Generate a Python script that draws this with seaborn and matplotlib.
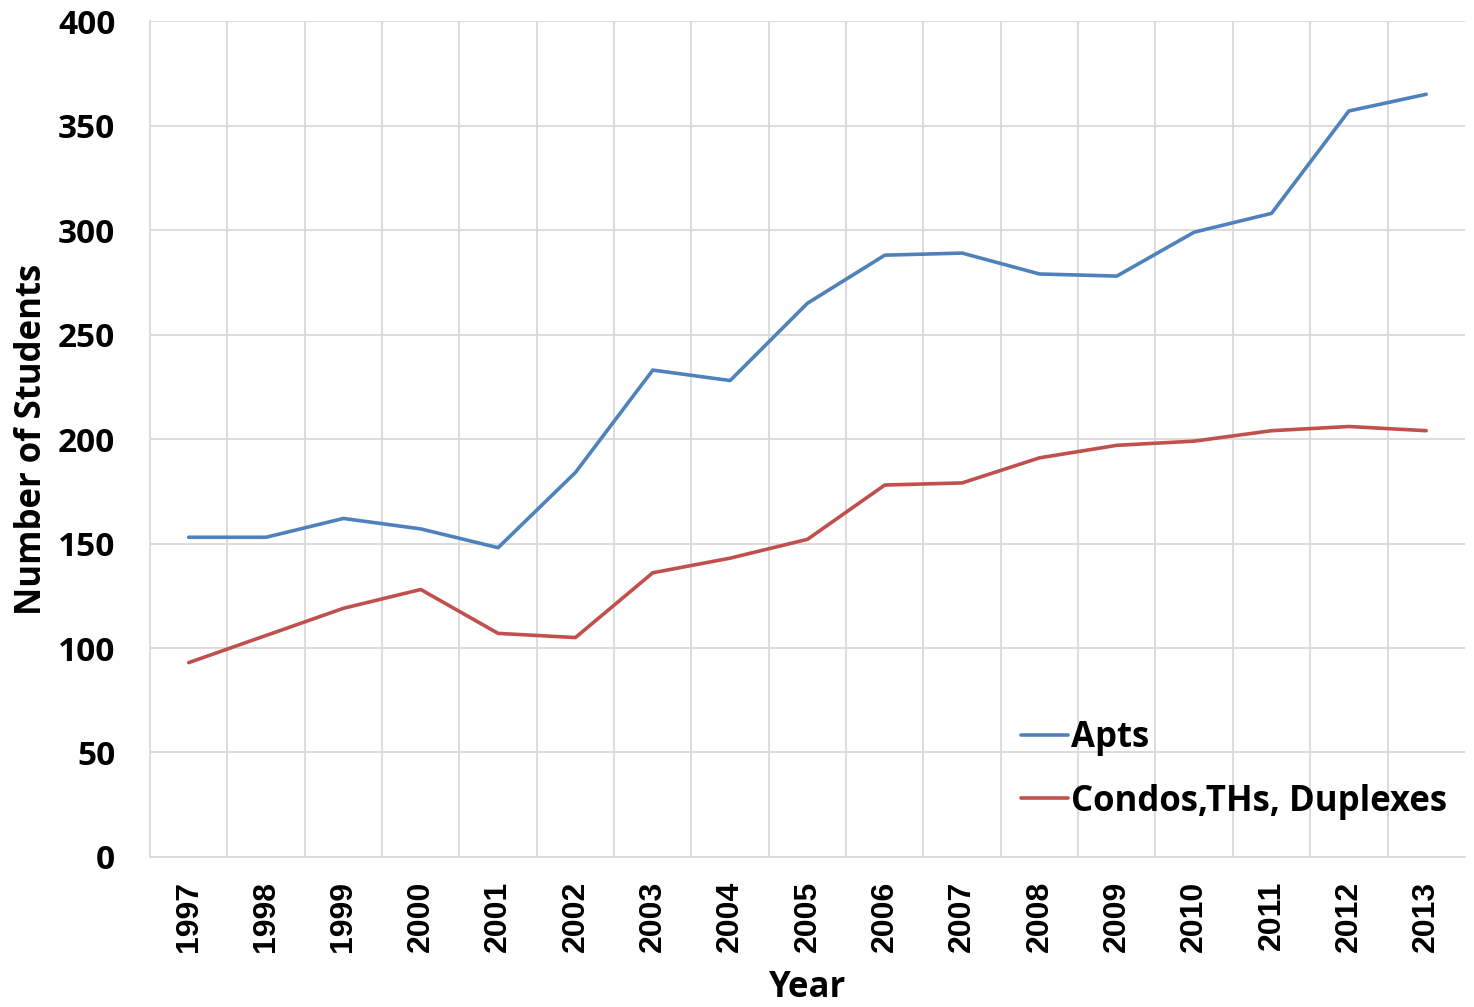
import pandas as pd
import matplotlib
matplotlib.use("Agg")
import matplotlib.pyplot as plt
import seaborn as sns
from matplotlib.ticker import MultipleLocator
from matplotlib.font_manager import FontProperties

years = [1997, 1998, 1999, 2000, 2001, 2002, 2003, 2004, 2005,
         2006, 2007, 2008, 2009, 2010, 2011, 2012, 2013]
apts = [153, 153, 162, 157, 148, 184, 233, 228, 265,
        288, 289, 279, 278, 299, 308, 357, 365]
condos = [93, 106, 119, 128, 107, 105, 136, 143, 152,
          178, 179, 191, 197, 199, 204, 206, 204]
series_names = ["Apts", "Condos,THs, Duplexes"]

df = pd.DataFrame({
    "pos": list(range(len(years))) * 2,
    "value": apts + condos,
    "series": [series_names[0]] * len(years) + [series_names[1]] * len(years),
})

sns.set_style("white")
plt.rcParams["font.family"] = ["Open Sans", "DejaVu Sans"]
plt.rcParams["font.weight"] = "bold"
plt.rcParams["axes.labelweight"] = "bold"
plt.rcParams["text.color"] = "black"
plt.rcParams["axes.labelcolor"] = "black"
plt.rcParams["xtick.color"] = "black"
plt.rcParams["ytick.color"] = "black"

fig = plt.figure(figsize=(14.74, 10.07), dpi=100)
ax = fig.add_axes([0.1018, 0.149, 0.892, 0.830])

sns.lineplot(data=df, x="pos", y="value", hue="series",
             palette=["#4F81BD", "#C0504D"], linewidth=2.6, ax=ax)

ax.set_xlim(-0.5, len(years) - 0.5)
ax.set_ylim(0, 400)
ax.yaxis.set_major_locator(MultipleLocator(50))
ax.set_xticks(range(len(years)))
ax.set_xticks([i + 0.5 for i in range(len(years) - 1)], minor=True)
ax.tick_params(axis="x", which="major", length=0, pad=17)
ax.tick_params(axis="x", which="minor", length=0)
ax.tick_params(axis="y", length=0, pad=25, labelsize=24)

xfont = FontProperties(family="Liberation Sans", weight="heavy", size=23)
ax.set_xticklabels([str(y) for y in years], rotation=90, fontproperties=xfont)

ax.grid(True, axis="y", which="major", color="#D9D9D9", linewidth=1.3)
ax.grid(True, axis="x", which="minor", color="#D9D9D9", linewidth=1.3)
ax.grid(False, axis="x", which="major")
ax.set_axisbelow(True)
for side in ["top", "right"]:
    ax.spines[side].set_visible(False)
for side in ["left", "bottom"]:
    ax.spines[side].set_color("#D9D9D9")
    ax.spines[side].set_linewidth(1.3)

ax.set_xlabel("Year", fontsize=25, labelpad=13)
ax.set_ylabel("Number of Students", fontsize=25, labelpad=6)

leg = ax.legend(loc="lower right", bbox_to_anchor=(1.0, 0.024), frameon=False,
                fontsize=25, handlelength=1.35, handletextpad=0.1,
                labelspacing=0.8, borderaxespad=0.1)

fig.savefig("out.png", dpi=100)
